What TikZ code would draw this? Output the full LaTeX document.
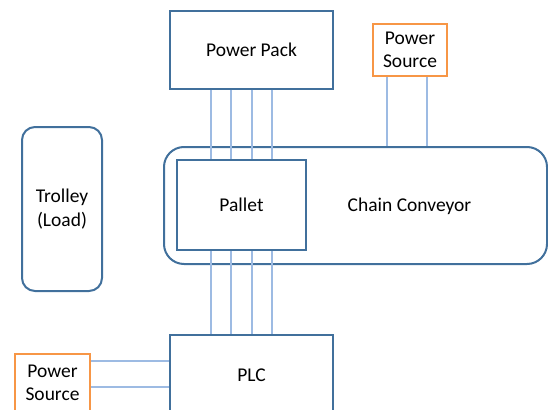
\documentclass[tikz,border=0pt]{standalone}
\usepackage{fontspec}
\setmainfont{Carlito}
\definecolor{boxblue}{HTML}{41709C}
\definecolor{wireblue}{HTML}{9DBBE3}
\definecolor{srcorange}{HTML}{F79646}
\tikzset{
  unit/.style={draw=boxblue, line width=2pt, align=center, inner sep=0pt},
  roundunit/.style={unit, rounded corners=#1},
  source/.style={draw=srcorange, line width=2pt, align=center, inner sep=0pt,
    font=\fontsize{19.5}{23.5}\selectfont},
  wire/.style={draw=wireblue, line width=1.1pt},
}
\begin{document}
\begin{tikzpicture}[x=1pt, y=-1pt, font=\fontsize{19.5}{24}\selectfont]
\useasboundingbox (0,0) rectangle (548,409);
\clip (0,0) rectangle (548,409);

% conveyor body with the pallet on it
\node[roundunit=20pt, minimum width=383pt, minimum height=117pt] (conv) at (355.5,205.5) {};
\node at (409.5,206) {Chain Conveyor};
\node[unit, minimum width=129pt, minimum height=90pt] (pal) at (241.5,205) {Pallet};

% units above and below
\node[unit, minimum width=163pt, minimum height=78pt] (pp) at (251.5,50) {Power Pack};
\node[unit, minimum width=163pt, minimum height=80pt] (plc) at (251.5,375) {PLC};

% load
\node[roundunit=13pt, minimum width=80pt, minimum height=164pt] (trol) at (62,209) {Trolley\\(Load)};

% supplies
\node[source, minimum width=74pt, minimum height=52pt] (srcA) at (410,50) {Power\\Source};
\node[source, minimum width=75pt, minimum height=58pt] (srcB) at (52.5,383) {Power\\Source};

% wiring: power pack to pallet, pallet to PLC
\foreach \x in {211,231,252,272} {
  \draw[wire] (pp.south -| \x,0) -- (pal.north -| \x,0);
  \draw[wire] (pal.south -| \x,0) -- (plc.north -| \x,0);
}
% supply to conveyor
\foreach \x in {387,427}
  \draw[wire] (srcA.south -| \x,0) -- (conv.north -| \x,0);
% supply to PLC
\foreach \y in {361,387}
  \draw[wire] (srcB.east |- 0,\y) -- (plc.west |- 0,\y);
\end{tikzpicture}
\end{document}
